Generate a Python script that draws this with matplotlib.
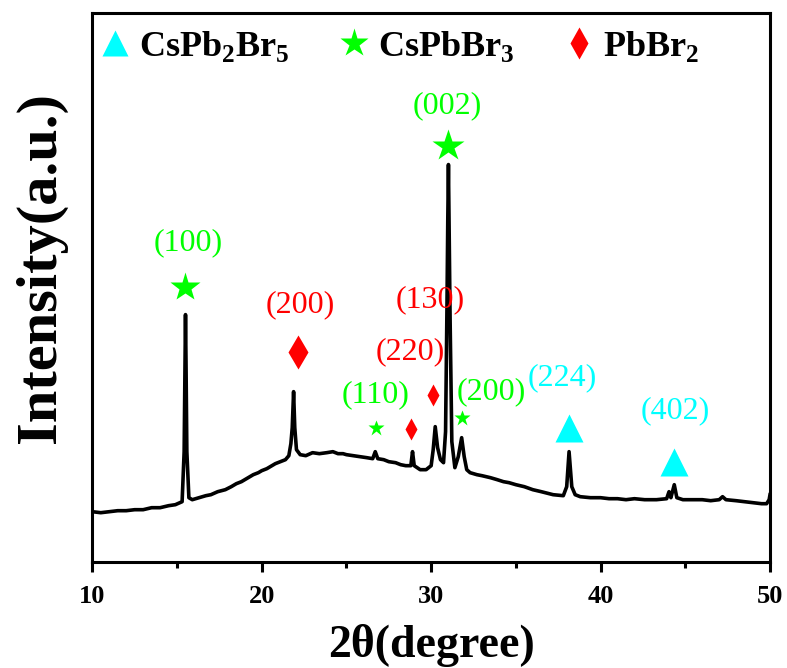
import matplotlib
matplotlib.use("Agg")
import matplotlib.pyplot as plt
from matplotlib.lines import Line2D
from matplotlib.ticker import MultipleLocator

plt.rcParams["font.family"] = ["Liberation Serif", "DejaVu Serif"]
plt.rcParams["mathtext.fontset"] = "custom"
plt.rcParams["mathtext.rm"] = "Liberation Serif"
plt.rcParams["mathtext.bf"] = "Liberation Serif:bold"

# XRD pattern (2theta in degree, intensity in a.u.)
two_theta = [
    10.0, 10.5, 11.0, 11.5, 12.0, 12.5, 13.0, 13.5, 14.0, 14.5, 14.9, 15.3, 15.42, 15.47,
    15.5, 15.53, 15.58, 15.7, 15.9, 16.3, 16.7, 17.0, 17.4, 17.85, 18.2, 18.5, 18.8,
    19.0, 19.3, 19.5, 19.8, 20.0, 20.3, 20.5, 20.8, 21.1, 21.4, 21.6, 21.72, 21.8,
    21.88, 21.95, 22.05, 22.27, 22.6, 23.0, 23.4, 23.84, 24.2, 24.5, 24.8, 25.0, 25.4,
    25.8, 26.2, 26.55, 26.7, 26.85, 27.2, 27.5, 27.9, 28.2, 28.5, 28.8, 28.9, 29.0,
    29.35, 29.7, 30.0, 30.12, 30.24, 30.38, 30.55, 30.73, 30.85, 30.93, 30.98, 31.02,
    31.06, 31.12, 31.22, 31.4, 31.6, 31.8, 31.95, 32.1, 32.3, 32.7, 33.0, 33.5, 33.9,
    34.27, 34.6, 35.0, 35.5, 36.0, 36.5, 37.2, 37.8, 38.0, 38.14, 38.3, 38.5, 38.8,
    39.4, 40.0, 40.5, 41.0, 41.5, 42.0, 42.6, 43.3, 43.9, 44.04, 44.15, 44.35, 44.5,
    44.86, 45.5, 46.0, 46.5, 47.0, 47.2, 47.4, 48.0, 48.5, 49.0, 49.5, 49.8, 49.95, 50.0,
]
intensity = [
    50, 49, 50, 51, 51, 52, 52, 54, 54, 56, 57, 60, 110, 200,
    247, 200, 110, 64, 62, 64, 66, 67, 70, 72, 75, 78, 80,
    82, 85, 87, 89, 91, 93, 95, 98, 100, 102, 106, 118, 134,
    170, 134, 112, 107, 106, 109, 108, 109, 110, 108, 108, 107, 106,
    105, 104, 103, 110, 103, 102, 100, 99, 97, 96, 96, 110, 96,
    92, 92, 96, 112, 135, 114, 102, 99, 130, 250, 340, 397,
    330, 240, 120, 94, 105, 124, 105, 92, 89, 87, 86, 84, 82,
    80, 79, 77, 75, 72, 70, 67, 66, 75, 110, 75, 67, 65,
    64, 64, 63, 63, 62, 63, 62, 62, 63, 70, 64, 77, 64,
    62, 62, 62, 61, 62, 65, 62, 61, 60, 59, 58, 58, 62, 67,
]

# phase legend
phases = [r"CsPb$_\mathregular{2}$Br$_\mathregular{5}$",
          r"CsPb$\mathregular{Br}_\mathregular{3}$",
          r"PbBr$_\mathregular{2}$"]
phase_colors = ["#00FFFF", "#00FF00", "#FF0000"]
phase_markers = ["^", "*", "d"]

# peak annotations: label, phase index, label pos, marker pos, marker size
peak_labels = ["(100)", "(200)", "(110)", "(220)", "(130)", "(002)", "(200)", "(224)", "(402)"]
peak_phase = [1, 2, 1, 2, 2, 1, 1, 0, 0]
label_xy = [(15.65, 319), (22.26, 257), (26.69, 167), (28.75, 210), (29.93, 262),
            (30.94, 456), (33.53, 170), (37.72, 184), (44.39, 151)]
marker_xy = [(15.47, 275), (22.14, 210), (26.75, 134), (28.81, 133), (30.11, 167),
             (31.0, 416), (31.82, 144), (38.13, 134), (44.34, 100)]
marker_size = [22, 17, 12, 11, 11, 24, 12, 20, 20]

fig = plt.figure(figsize=(7.87, 6.68), dpi=100)
ax = fig.add_axes([0.1173, 0.1591, 0.8611, 0.8207])

ax.plot(two_theta, intensity, color="black", lw=2.6)

for lab, ph, (tx, ty), (mx, my), ms in zip(peak_labels, peak_phase, label_xy, marker_xy, marker_size):
    c = phase_colors[ph]
    ax.plot(mx, my, marker=phase_markers[ph], color=c, ms=ms, mec="none", ls="none")
    ax.text(tx, ty, lab, color=c, fontsize=23, ha="center", va="center")

legend_ms = [19, 21, 16]
handles = [Line2D([], [], marker=m, color=c, ls="none", ms=s, mec="none")
           for m, c, s in zip(phase_markers, phase_colors, legend_ms)]
ax.legend(handles, phases, loc="upper left", bbox_to_anchor=(-0.025, 1.011), ncol=3,
          frameon=False, prop={"size": 26, "weight": "bold"}, borderaxespad=0.2,
          handletextpad=0.15, columnspacing=1.3, handlelength=1.0)

ax.set_xlim(10, 50)
ax.set_ylim(0, 548)
ax.set_yticks([])
ax.xaxis.set_major_locator(MultipleLocator(10))
ax.xaxis.set_minor_locator(MultipleLocator(5))
ax.tick_params(axis="x", which="major", direction="out", length=7, width=2.2, labelsize=19, pad=10)
ax.tick_params(axis="x", which="minor", direction="out", length=4, width=2.2)
for lab in ax.get_xticklabels():
    lab.set_fontweight("bold")
for sp in ax.spines.values():
    sp.set_linewidth(2.2)

ax.set_xlabel("2θ(degree)", fontsize=33, fontweight="bold", labelpad=11)
ax.set_ylabel("Intensity(a.u.)", fontsize=42, fontweight="bold")
ax.yaxis.set_label_coords(-0.037, 0.537)

fig.savefig("out.png", dpi=100)
